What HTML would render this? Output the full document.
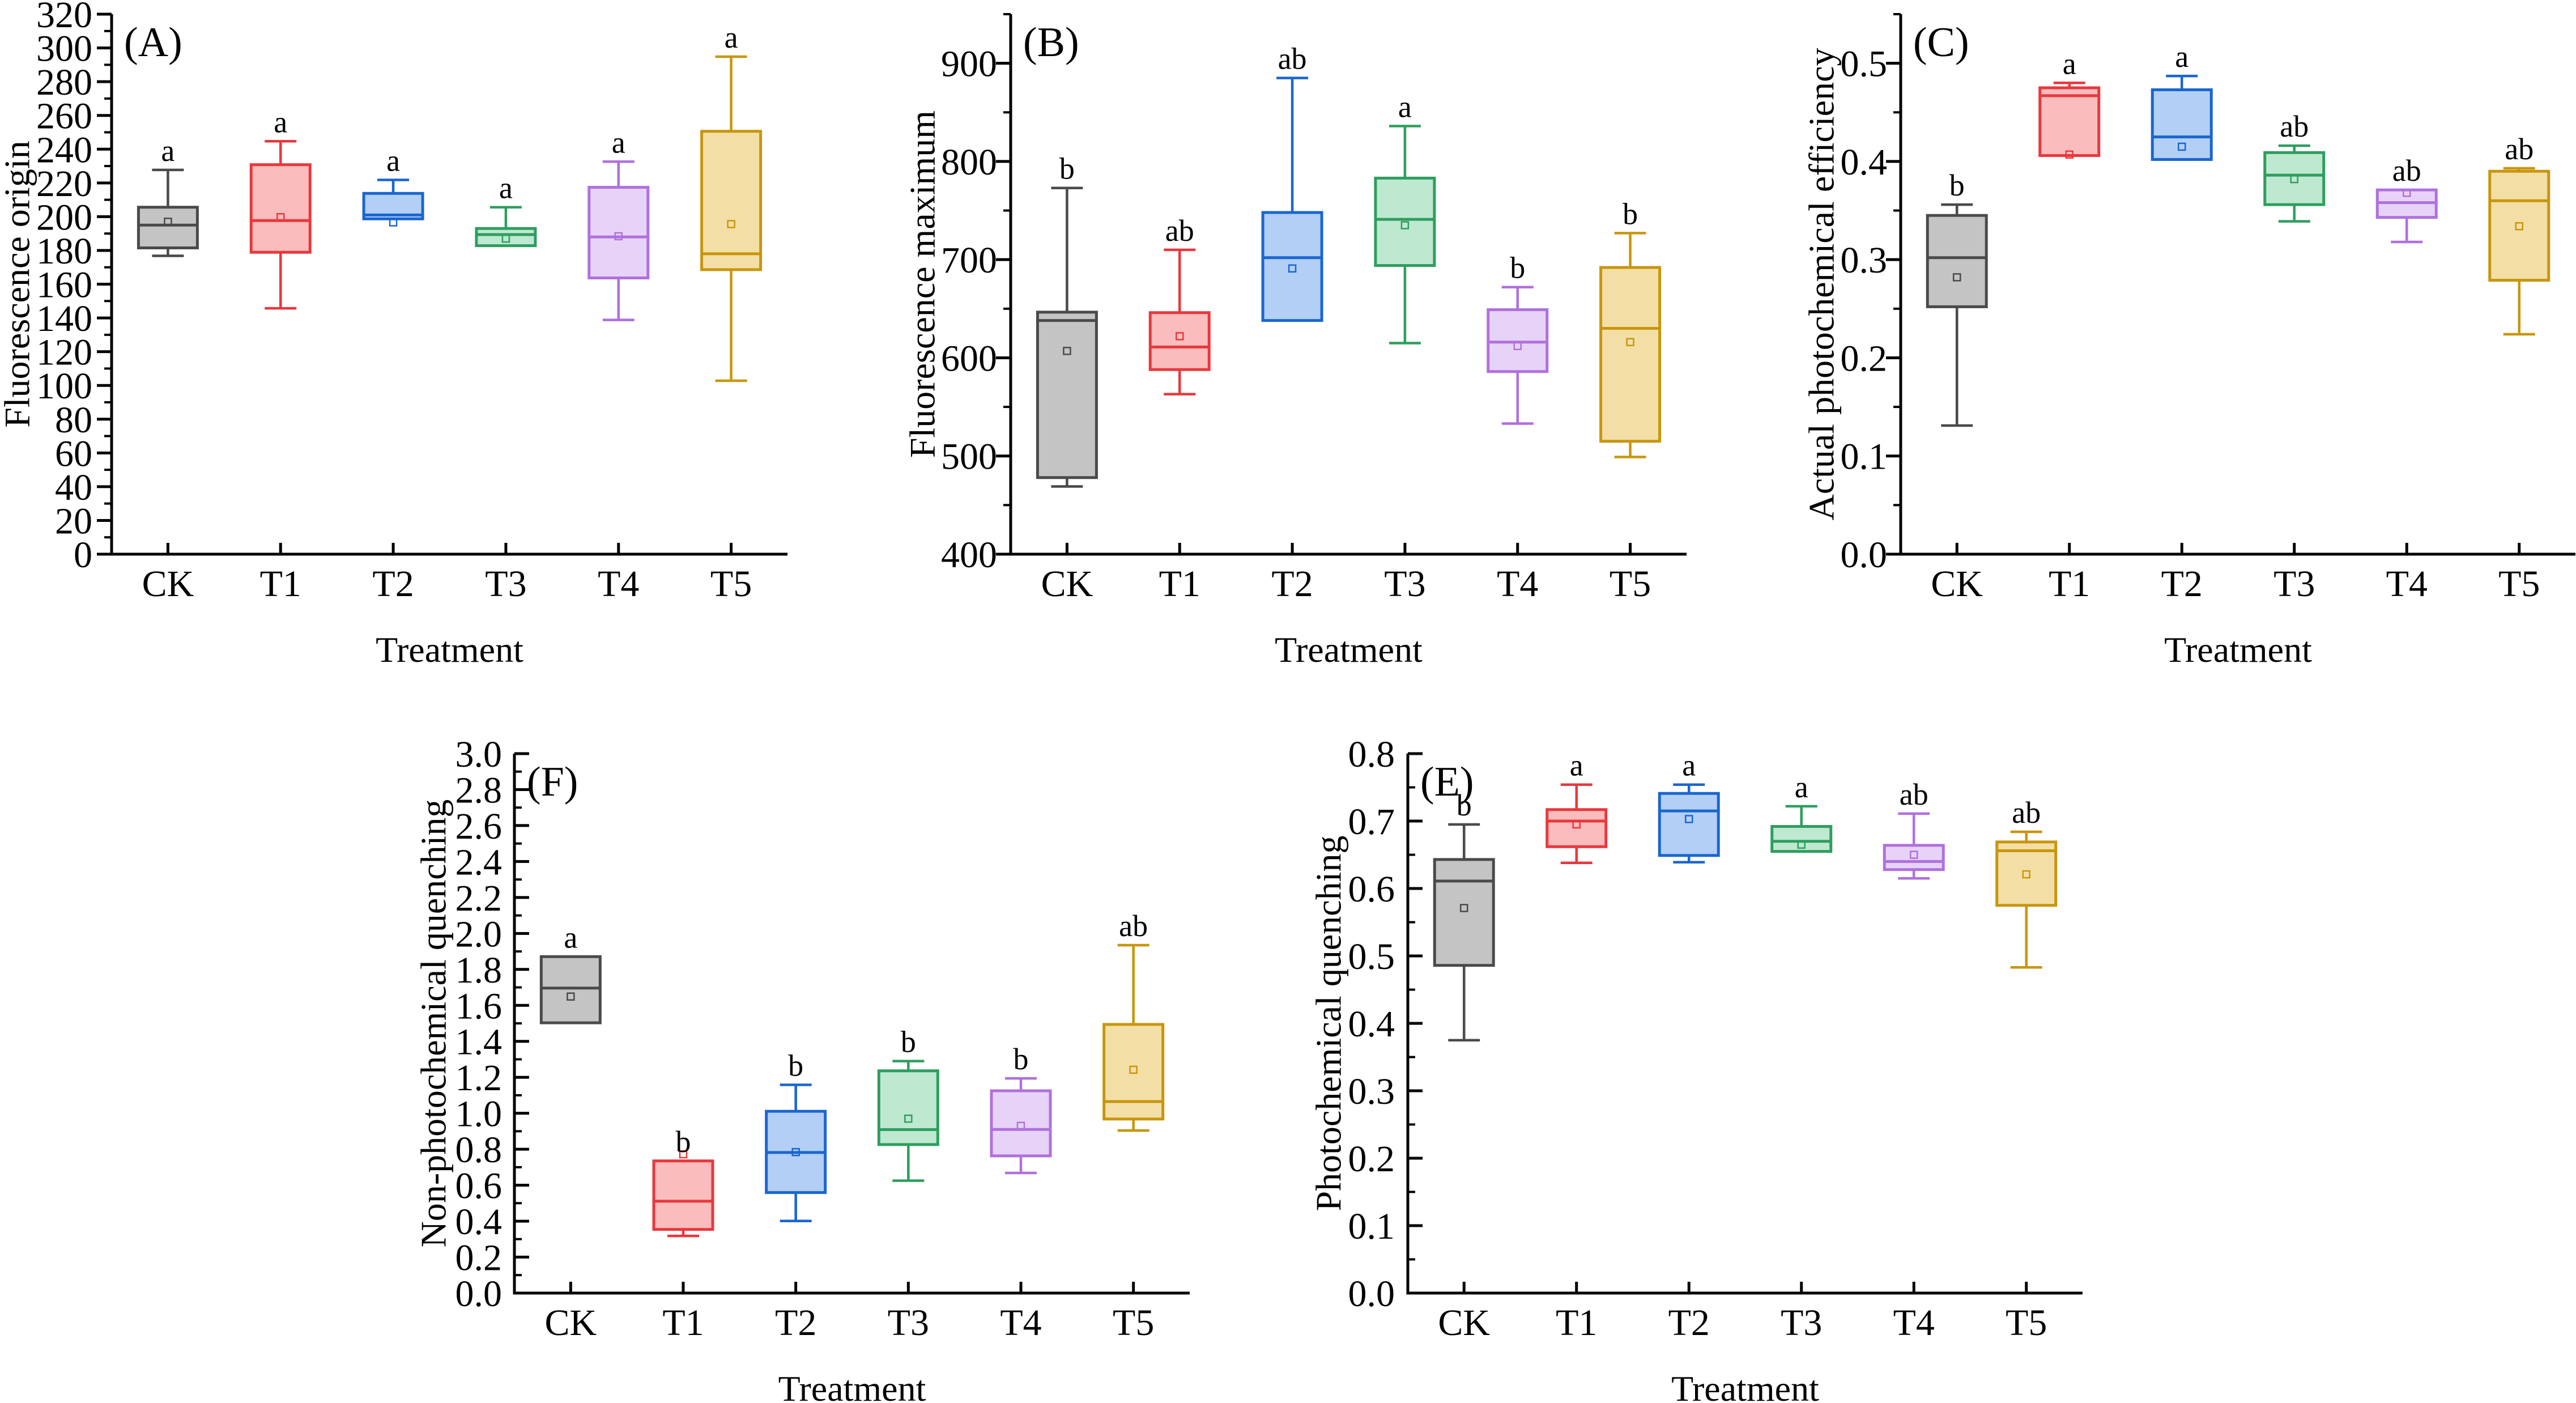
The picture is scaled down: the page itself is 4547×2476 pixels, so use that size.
<!DOCTYPE html>
<html><head><meta charset="utf-8"><style>
html,body{margin:0;padding:0;background:#fff;}
svg{display:block;font-family:"Liberation Serif","DejaVu Serif",serif;}
</style></head><body>
<svg id="fig" width="4547" height="2476" viewBox="0 0 4547 2476" xmlns="http://www.w3.org/2000/svg"></svg>
<script>
const categories = ["CK","T1","T2","T3","T4","T5"];
// Panel A: Fluorescence origin
const aHigh = [227.7,244.7,221.8,205.6,232.6,294.8];
const aQ3 = [205.6,230.8,213.8,193,217.4,250.6];
const aMed = [195,197.7,201,189.4,188,178];
const aQ1 = [181.5,178.9,198.7,182.8,163.7,168.6];
const aLow = [176.8,145.7,198.7,182.8,138.8,102.8];
const aMean = [197,199.7,196.6,187,188.4,195.6];
const aLetters = ["a","a","a","a","a","a"];
// Panel B: Fluorescence maximum
const bHigh = [773,710,885,836,672,727];
const bQ3 = [646.5,646,748,783,649,692];
const bMed = [638,611,702,741,616,630];
const bQ1 = [478,588,638,694,586,515];
const bLow = [469,563,638,615,533,499];
const bMean = [607,622,691,735,612,616];
const bLetters = ["b","ab","ab","a","b","b"];
// Panel C: Actual photochemical efficiency
const cHigh = [0.356,0.480,0.487,0.416,0.371,0.393];
const cQ3 = [0.345,0.475,0.473,0.409,0.371,0.390];
const cMed = [0.302,0.467,0.425,0.386,0.358,0.360];
const cQ1 = [0.252,0.406,0.402,0.356,0.343,0.279];
const cLow = [0.131,0.406,0.402,0.339,0.318,0.224];
const cMean = [0.282,0.407,0.415,0.382,0.368,0.334];
const cLetters = ["b","a","a","ab","ab","ab"];
// Panel F: Non-photochemical quenching
const fHigh = [1.871,0.735,1.158,1.29,1.194,1.935];
const fQ3 = [1.871,0.735,1.011,1.236,1.125,1.494];
const fMed = [1.696,0.511,0.782,0.909,0.91,1.065];
const fQ1 = [1.503,0.354,0.559,0.826,0.763,0.968];
const fLow = [1.503,0.318,0.401,0.625,0.668,0.904];
const fMean = [1.649,0.772,0.784,0.970,0.93,1.242];
const fLetters = ["a","b","b","b","b","ab"];
// Panel E: Photochemical quenching
const eHigh = [0.695,0.754,0.754,0.722,0.711,0.684];
const eQ3 = [0.643,0.717,0.741,0.692,0.664,0.669];
const eMed = [0.611,0.700,0.715,0.670,0.640,0.656];
const eQ1 = [0.486,0.662,0.649,0.655,0.628,0.575];
const eLow = [0.375,0.638,0.639,0.655,0.615,0.483];
const eMean = [0.571,0.695,0.703,0.665,0.650,0.621];
const eLetters = ["b","a","a","a","ab","ab"];

const strokeCols = ["#4a4a4a","#e8383d","#1a66d0","#2e9e5e","#b070dd","#c8960c"];
const fillCols = ["#c4c4c4","#fbbcbd","#b3cff5","#bfe8d1","#e8d3f8","#f3dfa6"];

const NS = "http://www.w3.org/2000/svg";
const svg = document.getElementById("fig");
function mk(tag, attrs, parent){
  const e = document.createElementNS(NS, tag);
  for (const k in attrs) e.setAttribute(k, attrs[k]);
  (parent||svg).appendChild(e);
  return e;
}

function panel(cfg, hi, q3, med, q1, lo, mean, letters){
  const g = mk("g", {});
  
  
  const unit = (cfg.x1 - cfg.x0) / 6;
  const xs = i => cfg.x0 + (i + 0.5) * unit;
  const ys = v => cfg.yBot - (v - cfg.vmin) / (cfg.vmax - cfg.vmin) * (cfg.yBot - cfg.yTop);
  const dir = cfg.tickOut ? -1 : 1;
  for (let v = cfg.vmin; v <= cfg.vmax + 1e-9; v += cfg.minor) {
    const t = mk("line", {x1:cfg.x0, x2:cfg.x0 + dir*13, y1:ys(v), y2:ys(v), stroke:"#000", "stroke-width":4}, g);
    
    
  }
  for (let v = cfg.vmin; v <= cfg.majorMax + 1e-9; v += cfg.major) {
    const t = mk("line", {x1:cfg.x0, x2:cfg.x0 + dir*26, y1:ys(v), y2:ys(v), stroke:"#000", "stroke-width":5}, g);
    
    
    const tx = mk("text", {x:cfg.x0 - cfg.labelGap, y:ys(v) + 23, "text-anchor":"end", "font-size":66, fill:"#000"}, g);
    tx.textContent = v.toFixed(cfg.dec);
    
    
  }
  const ax = mk("path", {d:`M${cfg.x0},${cfg.yTop} L${cfg.x0},${cfg.yBot} L${cfg.x1},${cfg.yBot}`, fill:"none", stroke:"#000", "stroke-width":5}, g);
  
  
  const yt = mk("text", {x:0, y:0, transform:`translate(${cfg.titleX},${(cfg.yTop+cfg.yBot)/2}) rotate(-90)`, "text-anchor":"middle", "dominant-baseline":"central", "font-size":64, fill:"#000"}, g);
  yt.textContent = cfg.title;
  
  
  const xt = mk("text", {x:(cfg.x0+cfg.x1)/2, y:cfg.yBot + 190, "text-anchor":"middle", "font-size":64, fill:"#000"}, g);
  xt.textContent = "Treatment";
  
  
  const pl = mk("text", {x:cfg.x0 + 22, y:cfg.yTop + 74, "font-size":74, fill:"#000"}, g);
  pl.textContent = cfg.label;
  
  
  const bw = 104, cw = 56;
  categories.forEach((c, i) => {
    const x = xs(i);
    const xtk = mk("line", {x1:x, x2:x, y1:cfg.yBot, y2:cfg.yBot - 20, stroke:"#000", "stroke-width":5}, g);
    
    
    const cl = mk("text", {x:x, y:cfg.yBot + 74, "text-anchor":"middle", "font-size":66, fill:"#000"}, g);
    cl.textContent = c;
    
    
    const bg = mk("g", {}, g);
    
    
    const sc = strokeCols[i];
    const wh = mk("path", {d:`M${x},${ys(hi[i])} L${x},${ys(q3[i])} M${x},${ys(q1[i])} L${x},${ys(lo[i])} M${x-cw/2},${ys(hi[i])} L${x+cw/2},${ys(hi[i])} M${x-cw/2},${ys(lo[i])} L${x+cw/2},${ys(lo[i])}`, stroke:sc, "stroke-width":4.5, fill:"none"}, bg);
    
    
    const r = mk("rect", {x:x-bw/2, y:ys(q3[i]), width:bw, height:Math.max(1, ys(q1[i]) - ys(q3[i])), fill:fillCols[i], stroke:sc, "stroke-width":5}, bg);
    
    
    const m = mk("line", {x1:x-bw/2, x2:x+bw/2, y1:ys(med[i]), y2:ys(med[i]), stroke:sc, "stroke-width":5}, bg);
    
    
    const mn = mk("rect", {x:x-6, y:ys(mean[i])-6, width:12, height:12, fill:"none", stroke:sc, "stroke-width":2.5}, bg);
    
    
    const lt = mk("text", {x:x, y:ys(hi[i]) - 16, "text-anchor":"middle", "font-size":54, fill:"#000"}, bg);
    lt.textContent = letters[i];
    
    
  });
}

panel({id:"a", x0:197, x1:1390, yTop:25, yBot:978, vmin:0, vmax:320, major:20, majorMax:320, minor:10, dec:0, tickOut:true, labelGap:34, titleX:30, title:"Fluorescence origin", label:"(A)"}, aHigh,aQ3,aMed,aQ1,aLow,aMean,aLetters);
panel({id:"b", x0:1784, x1:2977, yTop:25, yBot:978, vmin:400, vmax:950, major:100, majorMax:900, minor:50, dec:0, tickOut:true, labelGap:24, titleX:1628, title:"Fluorescence maximum", label:"(B)"}, bHigh,bQ3,bMed,bQ1,bLow,bMean,bLetters);
panel({id:"c", x0:3355, x1:4546, yTop:25, yBot:978, vmin:0, vmax:0.55, major:0.1, majorMax:0.5, minor:0.05, dec:1, tickOut:true, labelGap:24, titleX:3215, title:"Actual photochemical efficiency", label:"(C)"}, cHigh,cQ3,cMed,cQ1,cLow,cMean,cLetters);
panel({id:"f", x0:908, x1:2100, yTop:1330, yBot:2282, vmin:0, vmax:3.0, major:0.2, majorMax:3.0, minor:0.1, dec:1, tickOut:false, labelGap:22, titleX:765, title:"Non-photochemical quenching", label:"(F)"}, fHigh,fQ3,fMed,fQ1,fLow,fMean,fLetters);
panel({id:"e", x0:2485, x1:3676, yTop:1330, yBot:2282, vmin:0, vmax:0.8, major:0.1, majorMax:0.8, minor:0.05, dec:1, tickOut:false, labelGap:23, titleX:2345, title:"Photochemical quenching", label:"(E)"}, eHigh,eQ3,eMed,eQ1,eLow,eMean,eLetters);
</script>
</body></html>
